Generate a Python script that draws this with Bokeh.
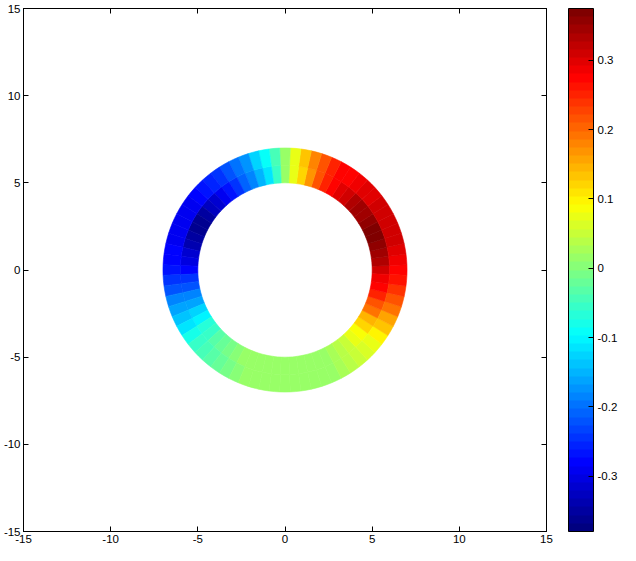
import numpy as np
from bokeh.plotting import figure
from bokeh.models import (ColumnDataSource, LinearColorMapper, ColorBar, FixedTicker,
                          LinearAxis, Range1d, CustomJSTickFormatter)
from bokeh.transform import transform
from bokeh.embed import file_html
from bokeh.resources import INLINE

# ---- data ----
angle_deg = list(range(0, 360, 5))          # sector centres, degrees from +x axis
inner_vals = [0.31, 0.33, 0.35, 0.36, 0.37, 0.37, 0.36, 0.35, 0.34, 0.33,
              0.31, 0.30, 0.28, 0.25, 0.22, 0.17, 0.12, 0.07, 0.01, -0.06,
              -0.11, -0.15, -0.18, -0.21, -0.24, -0.27, -0.29, -0.31, -0.33, -0.35,
              -0.36, -0.36, -0.35, -0.34, -0.32, -0.30, -0.28, -0.25, -0.22, -0.19,
              -0.16, -0.13, -0.10, -0.07, -0.05, -0.03, -0.02, -0.01, 0.00, 0.01,
              0.01, 0.02, 0.02, 0.02, 0.02, 0.02, 0.02, 0.02, 0.02, 0.02,
              0.03, 0.04, 0.05, 0.07, 0.09, 0.12, 0.15, 0.19, 0.22, 0.25,
              0.27, 0.29]
outer_vals = [0.28, 0.29, 0.30, 0.31, 0.31, 0.31, 0.31, 0.31, 0.30, 0.30,
              0.29, 0.28, 0.27, 0.25, 0.22, 0.18, 0.13, 0.08, 0.02, -0.04,
              -0.09, -0.13, -0.17, -0.20, -0.22, -0.24, -0.26, -0.27, -0.28, -0.29,
              -0.29, -0.29, -0.29, -0.29, -0.28, -0.28, -0.27, -0.25, -0.22, -0.19,
              -0.16, -0.14, -0.11, -0.08, -0.06, -0.04, -0.03, -0.02, -0.01, 0.00,
              0.01, 0.01, 0.02, 0.02, 0.02, 0.02, 0.02, 0.02, 0.02, 0.02,
              0.03, 0.04, 0.05, 0.06, 0.08, 0.10, 0.13, 0.16, 0.19, 0.22,
              0.24, 0.26]
ring_r_in = [5.0, 6.0]
ring_r_out = [6.0, 7.0]
axis_ticks = [-15, -10, -5, 0, 5, 10, 15]
cbar_ticks = [-0.3, -0.2, -0.1, 0, 0.1, 0.2, 0.3]
clim_low, clim_high = -0.38, 0.375
sector_width = 5


def jet(n=64):
    cols = []
    for i in range(n):
        x = i / (n - 1)
        r = min(max(1.5 - abs(4 * x - 3), 0), 1)
        g = min(max(1.5 - abs(4 * x - 2), 0), 1)
        b = min(max(1.5 - abs(4 * x - 1), 0), 1)
        cols.append('#%02x%02x%02x' % (int(round(r * 255)), int(round(g * 255)), int(round(b * 255))))
    return cols


rows = {"ri": [], "ro": [], "a0": [], "a1": [], "v": []}
for ring, vals in enumerate([inner_vals, outer_vals]):
    for a, v in zip(angle_deg, vals):
        rows["ri"].append(ring_r_in[ring])
        rows["ro"].append(ring_r_out[ring])
        rows["a0"].append(np.radians(a - sector_width / 2))
        rows["a1"].append(np.radians(a + sector_width / 2))
        rows["v"].append(v)
src = ColumnDataSource(rows)

mapper = LinearColorMapper(palette=jet(64), low=clim_low, high=clim_high)

FONT = "Liberation Sans"
p = figure(width=620, height=545, output_backend="svg", toolbar_location=None,
           x_range=Range1d(-15, 15), y_range=Range1d(-15, 15),
           min_border_top=8, min_border_left=4, min_border_right=4, min_border_bottom=4)
p.grid.visible = False
p.outline_line_color = "black"

p.annular_wedge(x=0, y=0, inner_radius="ri", outer_radius="ro",
                start_angle="a0", end_angle="a1", source=src,
                fill_color=transform("v", mapper), line_color=transform("v", mapper),
                line_width=0.6)

plain = CustomJSTickFormatter(code="return tick.toString()")
for ax in (p.xaxis[0], p.yaxis[0]):
    ax.ticker = FixedTicker(ticks=axis_ticks)
    ax.formatter = plain
    ax.major_tick_in = 5
    ax.major_tick_out = 0
    ax.minor_tick_line_color = None
    ax.axis_line_color = "black"
    ax.major_tick_line_color = "black"
    ax.major_label_text_font = FONT
    ax.major_label_text_font_size = "11.5px"
    ax.major_label_text_color = "black"
    ax.major_label_standoff = 3

for place, standoff in (("above", 0), ("right", 18)):
    ax = LinearAxis(ticker=FixedTicker(ticks=axis_ticks),
                    formatter=CustomJSTickFormatter(code="return ' '"),
                    major_tick_in=5, major_tick_out=0, minor_tick_line_color=None,
                    major_label_standoff=standoff, axis_line_color="black",
                    major_tick_line_color="black", major_label_text_font_size="2px")
    p.add_layout(ax, place)

cb = ColorBar(color_mapper=mapper, ticker=FixedTicker(ticks=cbar_ticks), width=25,
              padding=0, margin=0, label_standoff=4, major_tick_in=5,
              formatter=CustomJSTickFormatter(code="return tick == 0 ? '0' : tick.toFixed(1)"),
              major_tick_line_color="black", bar_line_color="black",
              major_label_text_font=FONT, major_label_text_font_size="11.5px",
              major_label_text_color="black",
              background_fill_alpha=0, border_line_color=None)
p.add_layout(cb, "right")

open("out.html", "w").write(file_html(p, INLINE))
